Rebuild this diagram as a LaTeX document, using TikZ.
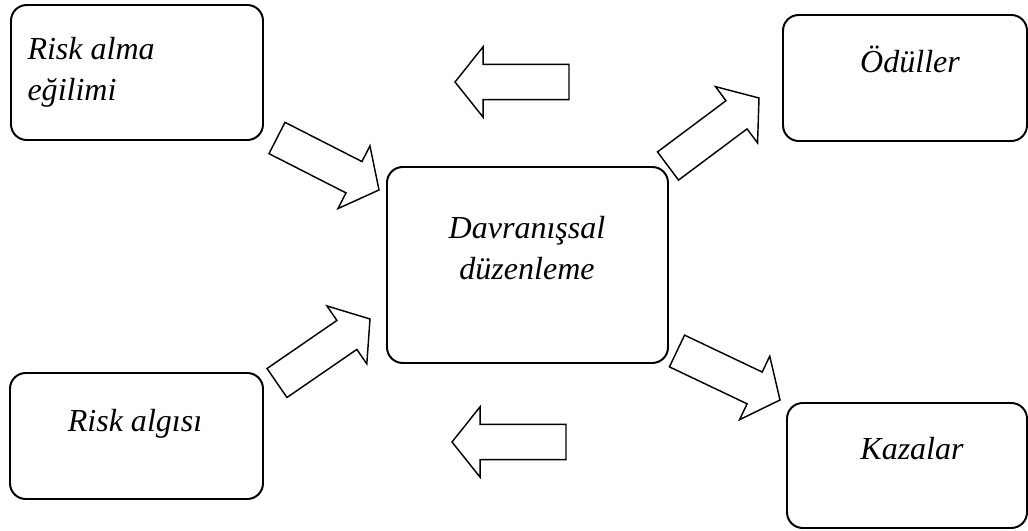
\documentclass[tikz,border=0pt]{standalone}
\usepackage{fontspec}
\setmainfont{Liberation Serif}[ItalicFont={Liberation Serif Italic}]
\usepackage{tikz}
\usetikzlibrary{positioning,calc,fit}

\tikzset{
  box/.style={draw,rounded corners=6pt,line width=0.75pt,inner sep=0pt},
  lbl/.style={font=\itshape\fontsize{12.2}{15.6}\selectfont,inner sep=0pt},
  blockarr/.style={draw,line width=0.55pt,fill=white,line join=miter},
}
% hollow block arrow from tail #1 to tip #2
\newcommand{\blockarrow}[2]{%
  \coordinate (bj) at ($(#2)!10.7pt!(#1)$);
  \draw[blockarr] ($(#1)!6.7pt!90:(#2)$) -- ($(bj)!6.7pt!90:(#2)$) -- ($(bj)!13.4pt!90:(#2)$)
    -- (#2) -- ($(bj)!13.4pt!-90:(#2)$) -- ($(bj)!6.7pt!-90:(#2)$) -- ($(#1)!6.7pt!-90:(#2)$) -- cycle;
}

\begin{document}
\begin{tikzpicture}[x=0.381pt,y=-0.381pt]
    \useasboundingbox (0,0) rectangle (1028,531);
    % boxes
    \node[box,fit={(11,5) (263,140)}] (riskalma) {};
    \node[box,fit={(783,15) (1027,141)}] (odul) {};
    \node[box,fit={(387,167) (668,363)}] (davran) {};
    \node[box,fit={(10,373) (263,499)}] (riskalgi) {};
    \node[box,fit={(787,403) (1027,528)}] (kaza) {};
    % texts
    \node[lbl,align=left,anchor=north west] (riskalma-t) at (27,37) {Risk alma\\eğilimi};
    \node[lbl,anchor=base] (odul-t) at (910,73) {Ödüller};
    \node[lbl,align=center,anchor=north] (davran-t) at (527,216) {Davranışsal\\düzenleme};
    \node[lbl,anchor=base] (riskalgi-t) at (135,432) {Risk algısı};
    \node[lbl,anchor=base] (kaza-t) at (912,460) {Kazalar};
    % arrow ends
    \coordinate (top-s) at (569,82);   \coordinate (top-e) at (455,82);
    \coordinate (bot-s) at (566,442);  \coordinate (bot-e) at (452,442);
    \coordinate (ra-s) at (277,138);   \coordinate (ra-e) at (379,190);
    \coordinate (od-s) at (668,166);   \coordinate (od-e) at (759,98);
    \coordinate (rg-s) at (277,383);   \coordinate (rg-e) at (370,319);
    \coordinate (kz-s) at (677,351);   \coordinate (kz-e) at (780,400);
    \blockarrow{top-s}{top-e}
    \blockarrow{bot-s}{bot-e}
    \blockarrow{ra-s}{ra-e}
    \blockarrow{od-s}{od-e}
    \blockarrow{rg-s}{rg-e}
    \blockarrow{kz-s}{kz-e}
\end{tikzpicture}
\end{document}
